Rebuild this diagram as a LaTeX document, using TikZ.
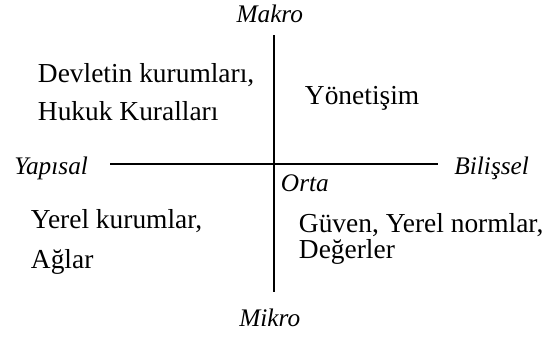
\documentclass[tikz,border=0pt]{standalone}
\usepackage{fontspec}
\setmainfont{Liberation Serif}
\usetikzlibrary{positioning}
\tikzset{
  every picture/.style={line width=1.4pt},
  axis/.style={draw=black, line width=1.4pt},
  pole/.style={font=\fontsize{18}{21}\selectfont\itshape, inner sep=0pt},
  item/.style={font=\fontsize{19.5}{24}\selectfont, inner sep=0pt, anchor=base west},
}
\begin{document}
\begin{tikzpicture}[x=0.025cm, y=-0.025cm]
  \useasboundingbox (0,0) rectangle (552,336);
  % axes
  \coordinate (top) at (274,35);
  \coordinate (bottom) at (274,292);
  \coordinate (left) at (110,164);
  \coordinate (right) at (438,164);
  \draw[axis] (top) -- (bottom);
  \draw[axis] (left) -- (right);
  % poles
  \node[pole, above=8pt of top, xshift=-3pt] (makro) {Makro};
  \node[pole, below=11pt of bottom, xshift=-3pt] (mikro) {Mikro};
  \node[pole, left=15pt of left, yshift=-3pt] (yapisal) {Yapısal};
  \node[pole, right=11pt of right, yshift=-3pt] (bilissel) {Bilişsel};
  \node[pole, anchor=base west] (orta) at (280,191) {Orta};
  % quadrants
  \node[item] (devlet) at (37,82) {Devletin kurumları,};
  \node[item] (hukuk) at (37,120) {Hukuk Kuralları};
  \node[item] (yonetisim) at (304,104) {Yönetişim};
  \node[item] (yerel) at (30,228) {Yerel kurumlar,};
  \node[item] (aglar) at (30,268) {Ağlar};
  \node[item] (guven) at (298,232) {Güven, Yerel normlar,};
  \node[item] (degerler) at (298,258) {Değerler};
\end{tikzpicture}
\end{document}
